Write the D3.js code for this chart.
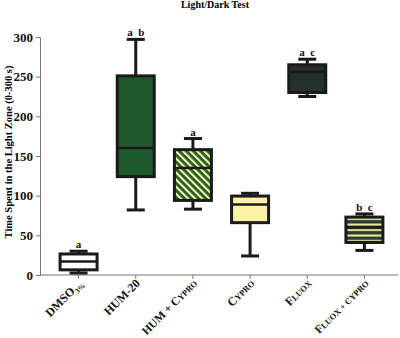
<!DOCTYPE html>
<html lang="en">
<head>
<meta charset="utf-8">
<title>Light/Dark Test</title>
<script src="https://cdn.jsdelivr.net/npm/d3@7"></script>
<style>
  body { margin: 0; background: #fff; }
  text { font-family: "Liberation Serif", "Times New Roman", serif; }
</style>
</head>
<body>
<script>
// data
const groups = ["DMSO", "HUM-20", "HUM+CYPRO", "CYPRO", "FLUOX", "FLUOX+CYPRO"];
const mins    = [2.5, 82, 83, 24, 225, 31];
const q1s     = [6.5, 124, 94, 66, 230, 41];
const medians = [17, 160, 135, 89, 256, 60];
const q3s     = [26.5, 251, 158, 99.5, 265, 73];
const maxs    = [30, 297, 172, 103, 272, 77];
const letters = ["a", "a  b", "a", "", "a  c", "b  c"];
const yTicks  = [0, 50, 100, 150, 200, 250, 300];

const w = 400, h = 338;
const svg = d3.select("body").append("svg").attr("width", w).attr("height", h);

const defs = svg.append("defs");
// diagonal stripes for HUM + Cypro
let diag = defs.append("pattern").attr("id", "diag")
  .attr("patternUnits", "userSpaceOnUse").attr("width", 5).attr("height", 5)
  .attr("patternTransform", "rotate(45)");
diag.append("rect").attr("width", 5).attr("height", 5).attr("fill", "#f6f0a0");
diag.append("rect").attr("width", 5).attr("height", 2.8).attr("fill", "#1f5a2c");
// horizontal stripes for Fluox + Cypro
let horiz = defs.append("pattern").attr("id", "horiz")
  .attr("patternUnits", "userSpaceOnUse").attr("width", 8).attr("height", 5.5)
  .attr("y", 2);
horiz.append("rect").attr("width", 8).attr("height", 5.5).attr("fill", "#2c3b30");
horiz.append("rect").attr("y", 1.5).attr("width", 8).attr("height", 2).attr("fill", "#f6f0a0");

const fills = ["#ffffff", "#1e5a2e", "url(#diag)", "#faf3a6", "#253229", "url(#horiz)"];

const x = d3.scaleBand().domain(groups).range([50, 393]);
const y = d3.scaleLinear().domain([0, 300]).range([275, 37]);

// axes
const yAxis = svg.append("g").attr("transform", "translate(40,0)")
  .call(d3.axisLeft(y).tickValues(yTicks).tickSize(4).tickPadding(3));
yAxis.select(".domain").attr("stroke", "#777");
yAxis.selectAll(".tick line").attr("stroke", "#777");
yAxis.selectAll(".tick text").attr("font-size", 13).attr("font-weight", "bold")
  .attr("fill", "#111").style("font-family", "Liberation Serif, serif");

const xAxis = svg.append("g").attr("transform", "translate(0,275)")
  .call(d3.axisBottom(x).tickSize(4).tickFormat(""));
xAxis.select(".domain").attr("stroke", "#777").attr("d", "M40,0H398");
xAxis.selectAll(".tick line").attr("stroke", "#777");

// x labels with small caps style
const labelParts = [
  [["DMSO", 12], ["3%", 7.5, 3]],
  [["HUM-20", 12]],
  [["HUM + C", 11.5], ["YPRO", 8.5]],
  [["C", 12], ["YPRO", 8.5]],
  [["F", 12], ["LUOX", 8.5]],
  [["F", 11.5], ["LUOX + C", 8.5], ["YPRO", 8.5]]
];
groups.forEach((g, i) => {
  const cx = x(g) + x.bandwidth() / 2;
  const t = svg.append("text")
    .attr("transform", `translate(${cx + 5},${284}) rotate(-45)`)
    .attr("text-anchor", "end").attr("font-weight", "bold").attr("fill", "#111");
  labelParts[i].forEach(p => {
    const sp = t.append("tspan").attr("font-size", p[1]).text(p[0]);
    if (p[2]) sp.attr("dy", p[2]);
  });
});

// boxes
const bw = 37, cw = 18;
const boxes = svg.append("g").selectAll("g").data(groups).join("g")
  .attr("transform", d => `translate(${x(d) + x.bandwidth() / 2},0)`);

boxes.append("line").attr("y1", (d, i) => y(maxs[i])).attr("y2", (d, i) => y(mins[i]))
  .attr("stroke", "#1a1a1a").attr("stroke-width", 3);
boxes.append("line").attr("x1", -cw / 2).attr("x2", cw / 2)
  .attr("y1", (d, i) => y(maxs[i])).attr("y2", (d, i) => y(maxs[i]))
  .attr("stroke", "#1a1a1a").attr("stroke-width", 3);
boxes.append("line").attr("x1", -cw / 2).attr("x2", cw / 2)
  .attr("y1", (d, i) => y(mins[i])).attr("y2", (d, i) => y(mins[i]))
  .attr("stroke", "#1a1a1a").attr("stroke-width", 3);
boxes.append("rect").attr("x", -bw / 2).attr("width", bw)
  .attr("y", (d, i) => y(q3s[i])).attr("height", (d, i) => y(q1s[i]) - y(q3s[i]))
  .attr("fill", (d, i) => fills[i]).attr("stroke", "#1a1a1a").attr("stroke-width", 3);
boxes.append("line").attr("x1", -bw / 2).attr("x2", bw / 2)
  .attr("y1", (d, i) => y(medians[i])).attr("y2", (d, i) => y(medians[i]))
  .attr("stroke", "#1a1a1a").attr("stroke-width", 2.5);
boxes.append("text").attr("text-anchor", "middle")
  .attr("y", (d, i) => y(maxs[i]) - 3)
  .attr("font-size", 11).attr("font-weight", "bold").attr("fill", "#111")
  .style("white-space", "pre").attr("xml:space", "preserve")
  .text((d, i) => letters[i]);

// title and y label
svg.append("text").attr("x", 215).attr("y", 8).attr("text-anchor", "middle")
  .attr("font-size", 10).attr("font-weight", "bold").text("Light/Dark Test");
svg.append("text").attr("transform", "translate(12,152) rotate(-90)")
  .attr("text-anchor", "middle").attr("font-size", 10.5).attr("font-weight", "bold")
  .text("Time Spent in the Light Zone (0-300 s)");
</script>
</body>
</html>
